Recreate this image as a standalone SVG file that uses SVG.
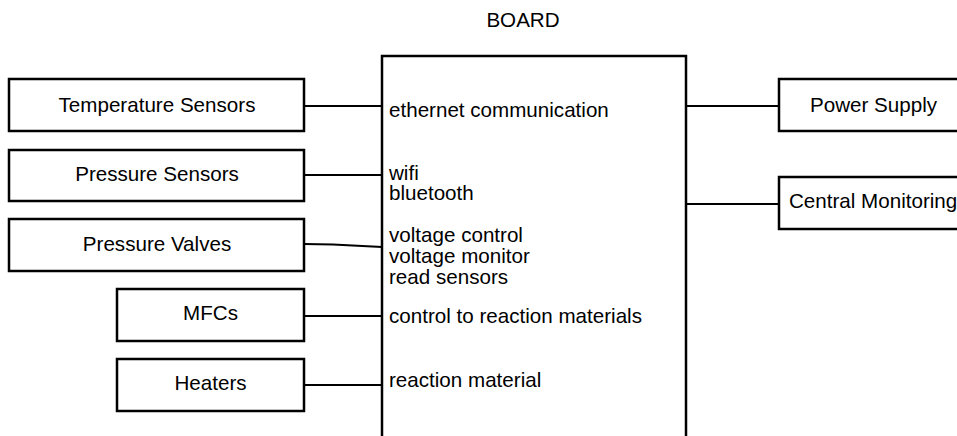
<svg xmlns="http://www.w3.org/2000/svg" width="957" height="436" viewBox="0 0 957 436">
<style>
.box{fill:#fff;stroke:#000;stroke-width:2.5}
.t{font-family:"Liberation Sans",Arial,sans-serif;font-size:20.6px;fill:#000}
.c{text-anchor:middle}
.ln{fill:none;stroke:#000;stroke-width:2.2}
</style>
<rect width="957" height="436" fill="#fff"/>
<g id="connectors">
<line class="ln" x1="304" y1="106" x2="382" y2="106"/>
<line class="ln" x1="304" y1="175" x2="382" y2="175"/>
<polyline class="ln" points="304,244 333,244.5 382,247" stroke-width="1.6"/>
<line class="ln" x1="304" y1="316" x2="382" y2="316"/>
<line class="ln" x1="304" y1="385" x2="382" y2="385"/>
<line class="ln" x1="686" y1="106" x2="779" y2="106"/>
<line class="ln" x1="686" y1="204" x2="779" y2="204"/>
</g>
<g id="board">
<text class="t c" x="523" y="27">BOARD</text>
<rect class="box" x="382" y="56" width="304" height="400"/>
<text class="t" x="389" y="117">ethernet communication</text>
<text class="t" x="389" y="180">wifi</text>
<text class="t" x="389" y="200">bluetooth</text>
<text class="t" x="389" y="242">voltage control</text>
<text class="t" x="389" y="263">voltage monitor</text>
<text class="t" x="389" y="284">read sensors</text>
<text class="t" x="389" y="323">control to reaction materials</text>
<text class="t" x="389" y="387">reaction material</text>
</g>
<g id="temperature-sensors">
<rect class="box" x="9" y="79" width="295" height="52"/>
<text class="t c" x="157" y="112">Temperature Sensors</text>
</g>
<g id="pressure-sensors">
<rect class="box" x="9" y="150" width="295" height="51"/>
<text class="t c" x="157" y="181">Pressure Sensors</text>
</g>
<g id="pressure-valves">
<rect class="box" x="9" y="219" width="295" height="52"/>
<text class="t c" x="157" y="251">Pressure Valves</text>
</g>
<g id="mfcs">
<rect class="box" x="117" y="289" width="187" height="52"/>
<text class="t c" x="210.5" y="320">MFCs</text>
</g>
<g id="heaters">
<rect class="box" x="117" y="359" width="187" height="52"/>
<text class="t c" x="210.5" y="390">Heaters</text>
</g>
<g id="power-supply">
<rect class="box" x="779" y="79" width="200" height="52"/>
<text class="t c" x="873.5" y="112">Power Supply</text>
</g>
<g id="central-monitoring">
<rect class="box" x="779" y="177" width="200" height="52"/>
<text class="t" x="789" y="208">Central Monitoring</text>
</g>
</svg>
